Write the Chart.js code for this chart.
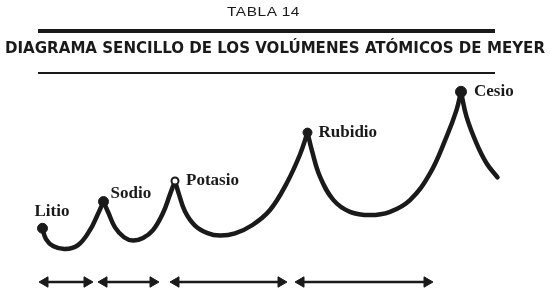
<!DOCTYPE html>
<html>
<head>
<meta charset="utf-8">
<script src="https://cdn.jsdelivr.net/npm/chart.js@4/dist/chart.umd.min.js"></script>
<style>
  html, body { margin: 0; padding: 0; background: #fff; }
  #wrap { position: relative; width: 550px; height: 297px; overflow: hidden; background: #fff; }
  #c { position: absolute; left: 0; top: 0; }
  .hdr { position: absolute; white-space: nowrap; color: #1a1a1a; transform-origin: 0 50%; }
  #tabla { font-family: "Liberation Sans", Arial, sans-serif; font-size: 13px; letter-spacing: 0.5px; top: 4px; left: 227px; }
  #titulo { font-family: "DejaVu Sans Condensed", "DejaVu Sans", sans-serif; font-weight: bold; font-size: 16.5px; top: 38px; left: 5px; }
  .rule { position: absolute; background: #1a1a1a; left: 38px; width: 457px; }
  #r1 { top: 29px; height: 4px; }
  #r2 { top: 72px; height: 2px; }
</style>
</head>
<body>
<div id="wrap">
  <canvas id="c" width="550" height="297"></canvas>
  <div class="hdr" id="tabla">TABLA 14</div>
  <div class="rule" id="r1"></div>
  <div class="hdr" id="titulo">DIAGRAMA SENCILLO DE LOS VOLÚMENES ATÓMICOS DE MEYER</div>
  <div class="rule" id="r2"></div>
</div>
<script>
// ---- Data (schematic units) ----
const elements = ['Litio', 'Sodio', 'Potasio', 'Rubidio', 'Cesio'];
const peakX = [8.5, 20.7, 35.0, 61.5, 92.2];
const peakY = [22.9, 31.8, 38.7, 54.8, 68.4];

const arc1X = [8.5, 9.2, 10.6, 13.0, 15.6, 18.0, 19.4, 20.7];
const arc1Y = [22.9, 19.3, 17.0, 16.0, 17.3, 22.3, 27.0, 31.8];
const arc2X = [20.7, 21.7, 23.0, 24.8, 26.6, 28.6, 30.6, 32.6, 34.0, 35.0];
const arc2Y = [31.8, 28.0, 23.2, 19.9, 18.8, 19.7, 22.3, 28.0, 34.2, 38.7];
const arc3X = [35.0, 35.8, 37.0, 39.0, 41.5, 44.0, 47.0, 50.5, 54.0, 57.3, 60.0, 61.5];
const arc3Y = [38.7, 34.2, 28.5, 23.8, 21.3, 20.5, 21.2, 24.0, 29.0, 37.8, 47.5, 54.8];
const arc4X = [61.5, 62.4, 64.0, 66.7, 70.0, 74.0, 78.0, 82.0, 86.0, 89.3, 91.3, 92.2];
const arc4Y = [54.8, 48.7, 40.1, 32.3, 28.4, 27.3, 28.4, 32.3, 41.2, 53.4, 62.3, 68.4];
const arc5X = [92.2, 93.3, 95.3, 97.3, 99.5];
const arc5Y = [68.4, 60.1, 51.2, 44.6, 39.9];

// period spans shown by the double arrows (start, end)
const periodStart = [9.0, 20.8, 35.2, 60.2];
const periodEnd = [17.4, 30.6, 56.2, 85.4];
const arrowLevel = 5.0;

// ---- Build datasets ----
const INK = '#1a1a1a';
const arcs = [[arc1X, arc1Y], [arc2X, arc2Y], [arc3X, arc3Y], [arc4X, arc4Y], [arc5X, arc5Y]];
const datasets = [];
arcs.forEach(([xs, ys], k) => {
  datasets.push({
    label: 'arc' + (k + 1),
    data: xs.map((x, i) => ({ x, y: ys[i] })),
    borderColor: INK,
    borderWidth: 4.5,
    borderCapStyle: 'round',
    borderJoinStyle: 'round',
    pointRadius: 0,
    tension: 0.4,
    fill: false,
    order: 2
  });
});
datasets.push({
  label: 'elementos',
  data: peakX.map((x, i) => ({ x, y: peakY[i] })),
  showLine: false,
  pointRadius: [5, 5, 3.5, 4.5, 5.5],
  pointBackgroundColor: [INK, INK, '#fff', INK, INK],
  pointBorderColor: INK,
  pointBorderWidth: [1, 1, 2, 1, 1],
  order: 0
});
periodStart.forEach((s, i) => {
  datasets.push({
    label: 'periodo' + (i + 1),
    data: [{ x: s, y: arrowLevel }, { x: periodEnd[i], y: arrowLevel }],
    borderColor: INK,
    borderWidth: 2.5,
    pointStyle: 'triangle',
    pointRadius: 6,
    pointRotation: [-90, 90],
    pointBackgroundColor: INK,
    pointBorderColor: INK,
    pointBorderWidth: 1,
    order: 1
  });
});

const labelOffsets = [[-8, -17], [7, -8], [11, 0], [11, 0], [13, 0]];
const pointLabels = {
  id: 'pointLabels',
  afterDatasetsDraw(chart) {
    const { ctx, scales } = chart;
    ctx.save();
    ctx.fillStyle = INK;
    ctx.font = 'bold 17px "Liberation Serif", serif';
    ctx.textAlign = 'left';
    ctx.textBaseline = 'middle';
    elements.forEach((name, i) => {
      const px = scales.x.getPixelForValue(peakX[i]);
      const py = scales.y.getPixelForValue(peakY[i]);
      ctx.fillText(name, px + labelOffsets[i][0], py + labelOffsets[i][1]);
    });
    ctx.restore();
  }
};

new Chart(document.getElementById('c'), {
  type: 'line',
  data: { datasets },
  options: {
    responsive: false,
    animation: false,
    devicePixelRatio: 1,
    layout: { padding: 0, autoPadding: false },
    plugins: { legend: { display: false }, tooltip: { enabled: false }, title: { display: false } },
    scales: {
      x: { type: 'linear', min: 0, max: 110, display: false },
      y: { type: 'linear', min: 0, max: 99, display: false }
    },
    elements: { line: { clip: false } }
  },
  plugins: [pointLabels]
});

// fit title widths to the reference
function fit(id, target) {
  const el = document.getElementById(id);
  const w = el.getBoundingClientRect().width;
  el.style.transform = 'scaleX(' + (target / w) + ')';
}
fit('titulo', 540);
fit('tabla', 73);
</script>
</body>
</html>
